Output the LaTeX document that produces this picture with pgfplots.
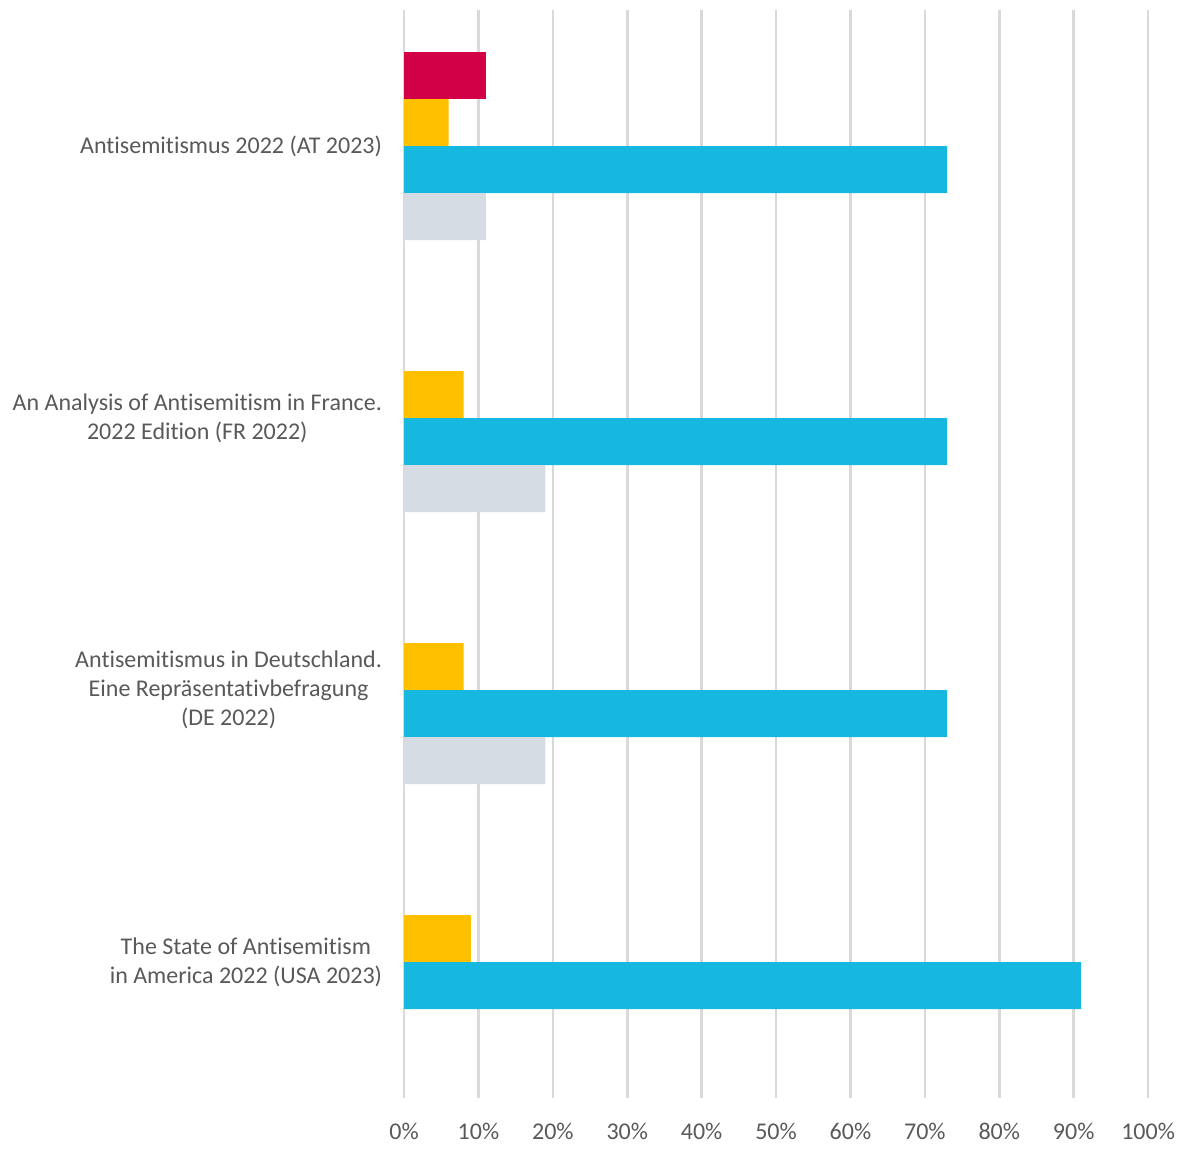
\documentclass[border=0pt]{standalone}
\usepackage{pgfplots}
\pgfplotsset{compat=1.18}
\usepackage{fontspec}
\setmainfont[Ligatures=NoCommon]{Carlito}
\definecolor{cred}{HTML}{D20046}
\definecolor{cyel}{HTML}{FFC000}
\definecolor{cblue}{HTML}{17B8E0}
\definecolor{cgrey}{HTML}{D6DCE4}
\definecolor{ctext}{HTML}{595959}
\definecolor{cgrid}{HTML}{D9D9D9}
\begin{document}
\begin{tikzpicture}
\begin{axis}[
  scale only axis,
  width=372pt, height=544pt,
  xbar, bar shift=0pt, bar width=0.1728,
  xmin=0, xmax=100, ymin=-0.5, ymax=3.5,
  xtick={0,10,...,100},
  xticklabel={\pgfmathprintnumber{\tick}\%},
  /pgf/number format/assume math mode=true,
  ytick={0,1,2,3},
  yticklabels={{The State of Antisemitism\\in America 2022 (USA 2023)},
    {Antisemitismus in Deutschland.\\Eine Repräsentativbefragung\\(DE 2022)},
    {An Analysis of Antisemitism in France.\\2022 Edition (FR 2022)},
    {Antisemitismus 2022 (AT 2023)}},
  yticklabel style={align=center, font=\fontsize{12}{14.5}\selectfont, text=ctext, xshift=-7.5pt},
  xticklabel style={font=\fontsize{12}{14}\selectfont, text=ctext, yshift=-9pt},
  xmajorgrids, major grid style={cgrid, line width=1.3pt},
  axis line style={draw=none},
  major tick length=0pt,
  clip=false,
]
\addplot[draw=none, fill=cred] coordinates {(11,3.2592)};
\addplot[draw=none, fill=cyel] coordinates {(6,3.0864) (8,2.0864) (8,1.0864) (9,0.0864)};
\addplot[draw=none, fill=cblue] coordinates {(73,2.9136) (73,1.9136) (73,0.9136) (91,-0.0864)};
\addplot[draw=none, fill=cgrey] coordinates {(11,2.7408) (19,1.7408) (19,0.7408)};
\path (rel axis cs:-0.543,1.0092) rectangle (rel axis cs:1.059,-0.0506);
\end{axis}
\end{tikzpicture}
\end{document}
